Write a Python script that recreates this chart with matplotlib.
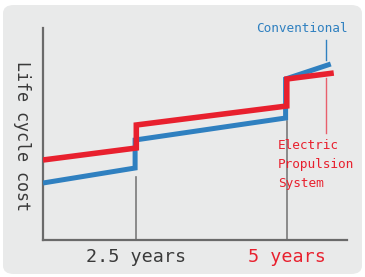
import matplotlib
matplotlib.use("Agg")
import matplotlib.pyplot as plt
from matplotlib.patches import FancyBboxPatch

# ---- data ----
red_x = [0.95, 2.5, 2.5, 5.0, 5.0, 5.78]
red_y = [40, 46, 57.5, 67, 80.5, 83.5]
blue_x = [0.95, 2.48, 2.48, 4.98, 4.98, 5.73]
blue_y = [28.5, 36, 50, 61, 80.5, 88]
tick_pos = [2.5, 5.0]
tick_labels = ["2.5 years", "5 years"]
tick_colors = ["#3a3a3a", "#e8202e"]
guide_tops = [31.5, 59.5]

RED = "#e8202e"
BLUE = "#2f80c0"
FONT = "DejaVu Sans Mono"

W, H = 365, 277
fig = plt.figure(figsize=(W / 100, H / 100), dpi=100)
fig.patch.set_facecolor("white")
bg = FancyBboxPatch((3 / W, 3 / H), 359 / W, 269 / H,
                    boxstyle="round,pad=0,rounding_size=0.03",
                    transform=fig.transFigure, facecolor="#e9eaea",
                    edgecolor="none", zorder=-5)
fig.patches.append(bg)

ax = fig.add_axes([43 / W, (H - 240) / H, (347 - 43) / W, (240 - 28) / H])
ax.set_zorder(2)
ax.set_facecolor("none")
ax.set_xlim(0.95, 6.0)
ax.set_ylim(0, 106)

for s in ["top", "right"]:
    ax.spines[s].set_visible(False)
for s in ["left", "bottom"]:
    ax.spines[s].set_color("#6a6a6a")
    ax.spines[s].set_linewidth(1.6)

for xp, top in zip(tick_pos, guide_tops):
    ax.plot([xp, xp], [0, top], color="#7a7a7a", lw=1.2, zorder=1)

ax.plot(blue_x, blue_y, color=BLUE, lw=3.6, solid_joinstyle="miter",
        solid_capstyle="butt", zorder=3)
ax.plot(red_x, red_y, color=RED, lw=4.0, solid_joinstyle="miter",
        solid_capstyle="butt", zorder=4)

# leader lines
ax.plot([5.65, 5.65], [90, 100], color=BLUE, lw=1.0, zorder=2)
ax.plot([5.65, 5.65], [53.5, 81], color="#e8606c", lw=1.0, zorder=2)

ax.text(5.25, 105.5, "Conventional", color=BLUE, fontsize=9.2,
        family=FONT, ha="center", va="center", clip_on=False)
ax.text(4.85, 50.5, "Electric\nPropulsion\nSystem", color=RED, fontsize=9.2,
        family=FONT, ha="left", va="top", linespacing=1.62)

ax.set_yticks([])
ax.set_xticks(tick_pos)
ax.set_xticklabels(tick_labels, family=FONT, fontsize=13.2)
for lbl, c in zip(ax.get_xticklabels(), tick_colors):
    lbl.set_color(c)
ax.tick_params(axis="x", length=0, pad=6)

fig.text(22 / W, (H - 136) / H, "Life cycle cost", rotation=270,
         family=FONT, fontsize=12, color="#3a3a3a", ha="center", va="center")

fig.savefig("out.png", dpi=100)
